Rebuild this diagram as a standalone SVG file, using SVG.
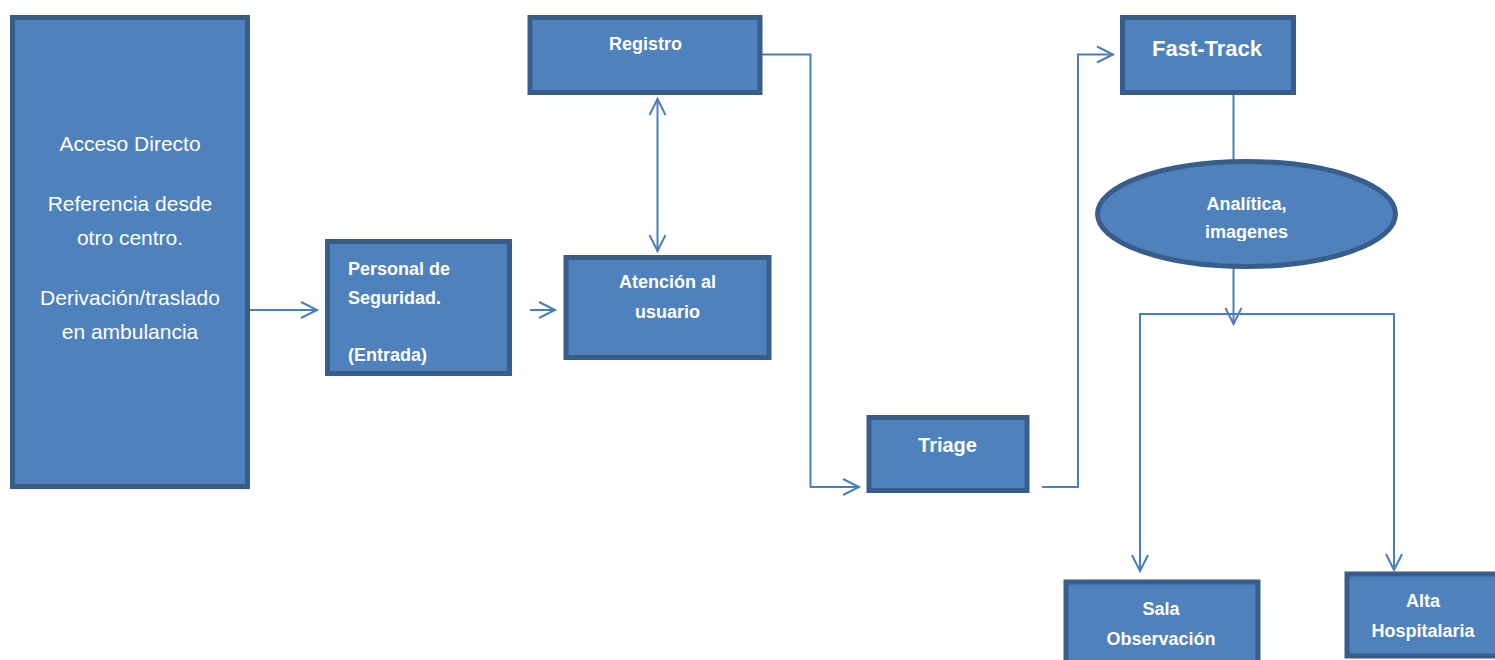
<svg xmlns="http://www.w3.org/2000/svg" width="1495" height="660" viewBox="0 0 1495 660">
<style>
.box{fill:#4F81BD;stroke:#385D8A;stroke-width:5}
.t{font-family:"Liberation Sans",Arial,sans-serif;fill:#fff;font-size:18px;font-weight:bold}
.r{font-family:"Liberation Sans",Arial,sans-serif;fill:#fff;font-size:21px}
.c{text-anchor:middle}
.ln{fill:none;stroke:#4A7EBB;stroke-width:2}
</style>
<defs>
<marker id="ah" markerUnits="userSpaceOnUse" markerWidth="24" markerHeight="24" refX="17" refY="9" orient="auto-start-reverse" viewBox="0 0 24 24" overflow="visible">
<polyline points="1,1 17,9 1,17" fill="none" stroke="#4A7EBB" stroke-width="2"/>
</marker>
<clipPath id="elclip"><rect x="1090" y="150" width="320" height="91"/></clipPath>
</defs>
<rect width="1495" height="660" fill="#fff"/>
<g id="connectors">
<line class="ln" x1="250" y1="310" x2="317" y2="310" marker-end="url(#ah)"/>
<line class="ln" x1="530" y1="310" x2="555" y2="310" marker-end="url(#ah)"/>
<line class="ln" x1="657.5" y1="99" x2="657.5" y2="251" marker-start="url(#ah)" marker-end="url(#ah)"/>
<polyline class="ln" points="762,54.5 810.5,54.5 810.5,487 859,487" marker-end="url(#ah)"/>
<polyline class="ln" points="1042,487 1078,487 1078,54.5 1113,54.5" marker-end="url(#ah)"/>
<line class="ln" x1="1233.5" y1="95" x2="1233.5" y2="160"/>
<line class="ln" x1="1233.5" y1="268" x2="1233.5" y2="324" marker-end="url(#ah)"/>
<polyline class="ln" points="1140,571 1140,314 1394,314 1394,570" />
<line class="ln" x1="1140" y1="540" x2="1140" y2="571" marker-end="url(#ah)"/>
<line class="ln" x1="1394" y1="540" x2="1394" y2="570" marker-end="url(#ah)"/>
</g>
<g id="acceso">
<rect class="box" x="12.5" y="17.5" width="235" height="469"/>
<text class="r c" x="130" y="151">Acceso Directo</text>
<text class="r c" x="130" y="211">Referencia desde</text>
<text class="r c" x="130" y="245">otro centro.</text>
<text class="r c" x="130" y="305">Derivación/traslado</text>
<text class="r c" x="130" y="339">en ambulancia</text>
</g>
<g id="personal">
<rect class="box" x="327.5" y="241.5" width="182" height="132"/>
<text class="t" x="348" y="275">Personal de</text>
<text class="t" x="348" y="304">Seguridad.</text>
<text class="t" x="348" y="361">(Entrada)</text>
</g>
<g id="registro">
<rect class="box" x="530" y="17.5" width="230" height="75"/>
<text class="t c" x="645.5" y="50">Registro</text>
</g>
<g id="atencion">
<rect class="box" x="566" y="257.5" width="203" height="100"/>
<text class="t c" x="667.5" y="288">Atención al</text>
<text class="t c" x="667.5" y="318">usuario</text>
</g>
<g id="triage">
<rect class="box" x="869" y="417.5" width="158" height="73"/>
<text class="t c" x="947.5" y="452" style="font-size:20px">Triage</text>
</g>
<g id="fasttrack">
<rect class="box" x="1122.5" y="17.5" width="171" height="75"/>
<text class="t c" x="1207" y="56" style="font-size:22px">Fast-Track</text>
</g>
<g id="analitica">
<ellipse class="box" cx="1246.5" cy="214" rx="149" ry="52.5"/>
<text class="t c" x="1246.5" y="210">Analítica,</text>
<text class="t c" x="1246.5" y="238" clip-path="url(#elclip)">imagenes</text>
</g>
<g id="sala">
<rect class="box" x="1066" y="582" width="192" height="100"/>
<text class="t c" x="1161" y="615">Sala</text>
<text class="t c" x="1161" y="645">Observación</text>
</g>
<g id="alta">
<rect class="box" x="1347" y="574" width="160" height="82"/>
<text class="t c" x="1423" y="607">Alta</text>
<text class="t c" x="1423" y="637">Hospitalaria</text>
</g>
</svg>
